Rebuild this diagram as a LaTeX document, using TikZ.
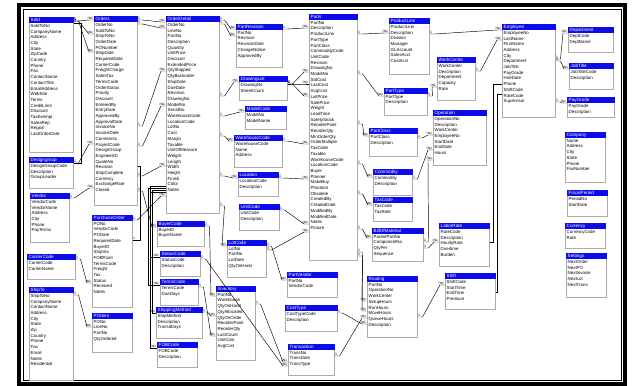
\documentclass[tikz,border=0pt]{standalone}
\usepackage{fontspec}
\setmainfont{Liberation Sans}
\usetikzlibrary{shadows}

\definecolor{azul}{RGB}{12,12,235}

\tikzset{
  tabla/.style={draw=gray!65, fill=white, line width=0.5pt, inner sep=0pt, anchor=north west,
    drop shadow={shadow xshift=1.2pt, shadow yshift=-1.2pt, fill=gray!55, opacity=1}},
  cabecera/.style={fill=azul},
  titulo/.style={text=white, font=\fontsize{4.6}{5}\selectfont, inner sep=0pt, anchor=west},
  campos/.style={font=\fontsize{4.4}{5.7}\selectfont, align=left, inner sep=0pt, anchor=north west},
  rel/.style={line width=0.45pt},
  uno/.style={font=\fontsize{3.5}{4}\selectfont, inner sep=0.4pt, above right},
  muchos/.style={font=\fontsize{5}{5}\selectfont, inner sep=0.2pt, above left},
}

% tabla: nombre, x0, y0, x1, y1, titulo, campos
\newcommand{\tabla}[7]{%
  \node[tabla, minimum width={(#4-#2)*1pt}, minimum height={(#5-#3)*1pt}] (#1) at (#2,#3) {};
  \fill[cabecera] (#1.north west) rectangle ([yshift=-6pt]#1.north east);
  \node[titulo] (#1-t) at ([xshift=1.5pt,yshift=-3pt]#1.north west) {#6};
  \node[campos] (#1-c) at ([xshift=1.5pt,yshift=-7pt]#1.north west) {#7};}

\begin{document}
\begin{tikzpicture}[x=1pt, y=-1pt]
  \useasboundingbox (0,0) rectangle (633,386);
  % marco
  \draw[line width=4pt] (19,5) rectangle (625,384);
  \draw[line width=0.8pt] (23,9) rectangle (621,380);

  % columna izquierda
  \tabla{t1}{29}{17}{73}{152}{Sold}{SoldToNo\\CompanyName\\Address\\City\\State\\ZipCode\\Country\\Phone\\Fax\\ContactName\\ContactTitle\\EmailAddress\\WebSite\\Terms\\CreditLimit\\Discount\\TaxExempt\\SalesRep\\Region\\LastOrderDate}
  \tabla{t2}{29}{157}{73}{188}{Designgroup}{DesignGroupCode\\Description\\GroupLeader}
  \tabla{t3}{30}{193}{69}{242}{Vendor}{VendorCode\\VendorName\\Address\\City\\Phone\\PayTerms}
  \tabla{t4}{27}{254}{75}{279}{CarrierCode}{CarrierCode\\CarrierName}
  \tabla{t5}{29}{287}{73}{380}{ShipTo}{ShipToNo\\CompanyName\\ContactName\\Address\\City\\State\\Zip\\Country\\Phone\\Fax\\Email\\Notes\\Residential}

  % pedidos
  \tabla{t6}{94}{16}{137}{205}{Orders}{OrderNo\\SoldToNo\\ShipToNo\\OrderDate\\PONumber\\ShipDate\\RequiredDate\\CarrierCode\\FreightCharge\\SalesTax\\TermsCode\\OrderStatus\\Priority\\Discount\\EnteredBy\\EntryDate\\ApprovedBy\\ApprovalDate\\InvoiceNo\\InvoiceDate\\Comments\\ProjectCode\\DesignGroup\\EngineerID\\QuoteNo\\Revision\\ShipComplete\\Currency\\ExchangeRate\\Closed}
  \tabla{t7}{92}{215}{132}{307}{PurchaseOrder}{PONo\\VendorCode\\PODate\\RequiredDate\\BuyerID\\ShipVia\\FOBPoint\\TermsCode\\Freight\\Tax\\Status\\Received\\Notes}
  \tabla{t8}{92}{313}{132}{352}{POItem}{PONo\\LineNo\\PartNo\\QtyOrdered}
  \tabla{t9}{166}{16}{219}{213}{OrderDetail}{OrderNo\\LineNo\\PartNo\\Description\\Quantity\\UnitPrice\\Discount\\ExtendedPrice\\QtyShipped\\QtyBackorder\\ShipDate\\DueDate\\Revision\\DrawingNo\\ModelNo\\SerialNo\\WarehouseCode\\LocationCode\\LotNo\\Cost\\Margin\\Taxable\\UnitOfMeasure\\Weight\\Length\\Width\\Height\\Finish\\Color\\Notes}
  \tabla{t10}{157}{221}{204}{246}{BuyerCode}{BuyerID\\BuyerName}
  \tabla{t11}{160}{251}{200}{276}{StatusCode}{StatusCode\\Description}
  \tabla{t12}{160}{279}{198}{305}{TermsCode}{TermsCode\\DueDays}
  \tabla{t13}{156}{307}{202}{338}{ShippingMethod}{ShipMethod\\Description\\TransitDays}
  \tabla{t14}{157}{342}{197}{367}{FOBCode}{FOBCode\\Description}

  % centro
  \tabla{t15}{236}{24}{282}{67}{PartRevision}{PartNo\\Revision\\RevisionDate\\ChangeNotice\\ApprovedBy}
  \tabla{t16}{239}{76}{287}{100}{DrawingList}{DrawingNo\\SheetCount}
  \tabla{t17}{245}{106}{286}{129}{ModelCode}{ModelNo\\ModelName}
  \tabla{t18}{234}{135}{282}{167}{WarehouseCode}{WarehouseCode\\Name\\Address}
  \tabla{t19}{238}{172}{278}{196}{Location}{LocationCode\\Description}
  \tabla{t20}{239}{204}{279}{230}{UnitCode}{UnitCode\\Description}
  \tabla{t21}{227}{240}{266}{277}{LotCode}{LotNo\\PartNo\\LotDate\\QtyOnHand}
  \tabla{t22}{216}{286}{255}{360}{Inventory}{PartNo\\Warehouse\\QtyOnHand\\QtyAllocated\\QtyOnOrder\\ReorderPoint\\ReorderQty\\LastCount\\UnitCost\\AvgCost}
  \tabla{t23}{287}{272}{337}{297}{PartVendor}{PartNo\\VendorCode}
  \tabla{t24}{285}{305}{337}{331}{CostType}{CostTypeCode\\Description}
  \tabla{t25}{288}{344}{334}{375}{Transaction}{TransNo\\TransDate\\TransType}
  \tabla{t26}{309}{14}{357}{260}{Parts}{PartNo\\Description\\ProductLine\\PartType\\PartClass\\CommodityCode\\UnitCode\\Revision\\DrawingNo\\ModelNo\\StdCost\\LastCost\\AvgCost\\ListPrice\\SalePrice\\Weight\\LeadTime\\SafetyStock\\ReorderPoint\\ReorderQty\\MinOrderQty\\OrderMultiple\\TaxCode\\Taxable\\WarehouseCode\\LocationCode\\Buyer\\Planner\\MakeBuy\\Phantom\\Obsolete\\CreatedBy\\CreatedDate\\ModifiedBy\\ModifiedDate\\Notes\\Picture}

  % derecha
  \tabla{t27}{389}{18}{429}{74}{ProductLine}{ProductLine\\Description\\Division\\Manager\\GLAccount\\SalesAcct\\CostAcct}
  \tabla{t28}{384}{88}{427}{115}{PartType}{PartType\\Description}
  \tabla{t29}{369}{128}{417}{156}{PartClass}{PartClass\\Description}
  \tabla{t30}{373}{169}{412}{195}{Commodity}{Commodity\\Description}
  \tabla{t31}{373}{197}{412}{221}{TaxCode}{TaxCode\\TaxRate}
  \tabla{t32}{372}{228}{423}{261}{BillOfMaterial}{ParentPartNo\\ComponentNo\\QtyPer\\Sequence}
  \tabla{t33}{367}{276}{417}{337}{Routing}{PartNo\\OperationNo\\WorkCenter\\SetupHours\\RunHours\\MoveHours\\QueueHours\\Description}
  \tabla{t34}{437}{57}{475}{100}{WorkCenter}{WorkCenter\\Description\\Department\\Capacity\\Rate}
  \tabla{t35}{433}{110}{486}{165}{Operation}{OperationNo\\Description\\WorkCenter\\EmployeeNo\\StartDate\\EndDate\\Hours}
  \tabla{t36}{439}{223}{489}{266}{LaborRate}{RateCode\\Description\\HourlyRate\\Overtime\\Burden}
  \tabla{t37}{445}{273}{495}{309}{Shift}{ShiftCode\\StartTime\\EndTime\\Premium}
  \tabla{t38}{502}{24}{555}{117}{Employee}{EmployeeNo\\LastName\\FirstName\\Address\\City\\Department\\JobTitle\\PayGrade\\HireDate\\Phone\\ShiftCode\\RateCode\\Supervisor}
  \tabla{t39}{568}{27}{613}{52}{Department}{DeptCode\\DeptName}
  \tabla{t40}{569}{63}{613}{89}{JobTitle}{JobTitleCode\\Description}
  \tabla{t41}{567}{97}{614}{117}{PayGrade}{PayGrade\\Description}
  \tabla{t42}{565}{132}{605}{182}{Company}{Name\\Address\\City\\State\\Phone\\FaxNumber}
  \tabla{t43}{567}{190}{607}{216}{FiscalPeriod}{PeriodNo\\StartDate}
  \tabla{t44}{565}{223}{605}{248}{Currency}{CurrencyCode\\Rate}
  \tabla{t45}{566}{253}{606}{297}{Settings}{NextOrder\\NextPO\\NextInvoice\\NextLot\\NextTrans}

  % relaciones
  \foreach \a/\ya/\b/\yb in {t1/4/t6/4, t1/4/t6/18, t1/4/t6/36, t2/6/t6/128, t3/5/t6/172,
      t4/5/t7/68, t5/8/t8/14, t6/4/t9/6, t6/8/t9/12, t6/110/t9/55, t6/130/t9/90,
      t6/160/t9/150, t6/175/t10/6, t7/5/t9/180, t9/4/t15/5, t9/8/t15/12, t9/80/t16/6,
      t9/100/t17/6, t9/120/t18/6, t9/160/t19/6, t9/190/t21/6, t10/5/t22/10, t12/8/t22/50,
      t13/5/t22/30, t11/8/t25/22, t15/5/t26/14, t16/8/t26/58, t16/8/t26/70, t16/8/t26/82,
      t18/6/t26/130, t19/6/t26/165, t20/6/t26/210, t21/6/t23/8, t21/10/t26/218,
      t22/18/t25/18, t26/20/t27/15, t26/60/t28/8, t26/110/t29/8, t26/150/t30/8,
      t26/180/t31/8, t26/215/t32/10, t26/238/t33/25, t26/242/t33/35, t25/12/t33/42,
      t24/8/t33/48, t27/16/t38/6, t28/8/t34/30, t34/14/t38/16, t29/10/t35/25,
      t30/10/t35/40, t33/41/t37/12, t32/14/t35/50, t32/20/t36/19, t38/35/t39/6,
      t38/37/t40/6, t38/78/t41/6}
    \draw[rel] ([yshift=-\ya pt]\a.north east) node[uno]{1} -- ++(5,0)
      -- ([xshift=-5pt,yshift=-\yb pt]\b.north west) -- ([yshift=-\yb pt]\b.north west) node[muchos]{$\infty$};

  % lineas verticales
  \foreach \a/\ya/\b/\yb/\d in {t1/6/t2/6/8, t7/25/t6/150/8}
    \draw[rel] ([yshift=-\ya pt]\a.north east) node[uno]{1} -- ++(\d,0) |- ([yshift=-\yb pt]\b.north east);
  \foreach \a/\ya/\b/\yb/\d in {t9/170/t11/6/16, t9/172/t12/6/18, t9/174/t13/6/14, t9/176/t14/6/16}
    \draw[rel] ([yshift=-\ya pt]\a.north west) -- ++(-\d,0) |- ([yshift=-\yb pt]\b.north west) node[muchos]{$\infty$};
  \foreach \a/\ya/\b/\yb/\d in {t38/70/t37/19/5, t38/60/t36/19/9}
    \draw[rel] ([yshift=-\ya pt]\a.north west) -- ++(-\d,0) |- ([yshift=-\yb pt]\b.north east);
\end{tikzpicture}
\end{document}
